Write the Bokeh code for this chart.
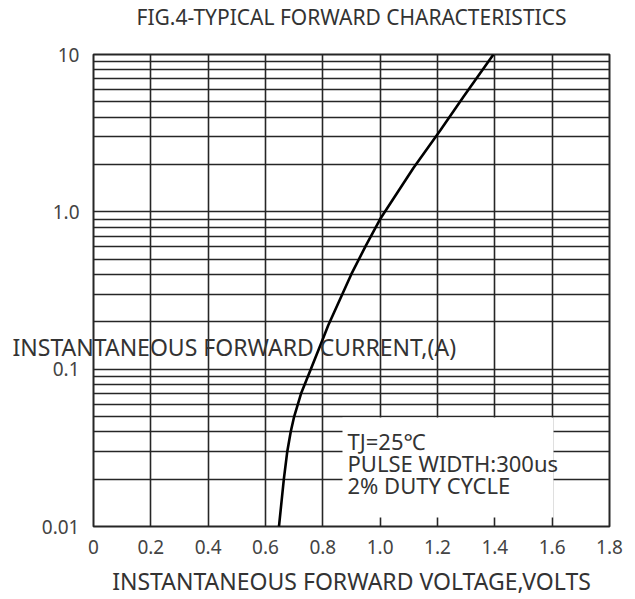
from bokeh.plotting import figure
from bokeh.models import FixedTicker, Label, BoxAnnotation, Range1d
from bokeh.embed import file_html
from bokeh.resources import INLINE

# ---- data ----
voltage = [0.647, 0.664, 0.676, 0.688, 0.700, 0.724, 0.758, 0.790, 0.819,
           0.860, 0.899, 0.951, 1.000, 1.116, 1.210, 1.290, 1.395]
current = [0.01, 0.02, 0.03, 0.04, 0.05, 0.07, 0.10, 0.14, 0.19,
           0.278, 0.40, 0.615, 0.90, 1.90, 3.30, 5.36, 10.0]

x_ticks = [0, 0.2, 0.4, 0.6, 0.8, 1.0, 1.2, 1.4, 1.6, 1.8]
x_tick_labels = ["0", "0.2", "0.4", "0.6", "0.8", "1.0", "1.2", "1.4", "1.6", "1.8"]
y_ticks = [0.01, 0.1, 1.0, 10.0]
y_tick_labels = ["0.01", "0.1", "1.0", "10"]
y_minor = [0.02, 0.03, 0.04, 0.05, 0.06, 0.07, 0.08, 0.09,
           0.2, 0.3, 0.4, 0.5, 0.6, 0.7, 0.8, 0.9,
           2, 3, 4, 5, 6, 7, 8, 9]

title_text = "FIG.4-TYPICAL FORWARD CHARACTERISTICS"
x_label_text = "INSTANTANEOUS FORWARD VOLTAGE,VOLTS"
y_label_text = "INSTANTANEOUS FORWARD CURRENT,(A)"
note_lines = ["TJ=25\u2103", "PULSE WIDTH:300us", "2% DUTY CYCLE"]

FONT = "Noto Sans"
TXT = "#333333"
GRID = "#262626"

p = figure(width=635, height=599, y_axis_type="log",
           x_range=Range1d(0, 1.8), y_range=Range1d(0.01, 10),
           output_backend="svg", toolbar_location=None,
           min_border_left=93, min_border_right=26,
           min_border_top=54, min_border_bottom=72)
p.background_fill_color = "white"
p.border_fill_color = "white"
p.outline_line_color = GRID
p.outline_line_width = 2

p.title.text = title_text
p.title.align = "center"
p.title.text_font = FONT
p.title.text_font_size = "21px"
p.title.text_font_style = "normal"
p.title.text_color = TXT
p.title.standoff = -16

p.xaxis.ticker = FixedTicker(ticks=x_ticks)
p.xaxis.major_label_overrides = {v: s for v, s in zip(x_ticks, x_tick_labels)}
p.yaxis.ticker = FixedTicker(ticks=y_ticks, minor_ticks=y_minor)
p.yaxis.major_label_overrides = {v: s for v, s in zip(y_ticks, y_tick_labels)}

for ax in (p.xaxis, p.yaxis):
    ax.axis_line_color = None
    ax.major_tick_out = 0
    ax.major_tick_in = 0
    ax.minor_tick_out = 0
    ax.minor_tick_in = 0
    ax.major_label_text_font = FONT
    ax.major_label_text_font_size = "19px"
    ax.major_label_text_color = "#444444"
p.xaxis.major_label_standoff = 13
p.yaxis.major_label_standoff = 14

p.xaxis.axis_label = x_label_text
p.xaxis.axis_label_text_font = FONT
p.xaxis.axis_label_text_font_size = "23px"
p.xaxis.axis_label_text_font_style = "normal"
p.xaxis.axis_label_text_color = TXT
p.xaxis.axis_label_standoff = 8

p.xgrid.grid_line_color = GRID
p.xgrid.grid_line_width = 1.6
p.ygrid.grid_line_color = GRID
p.ygrid.grid_line_width = 1.6
p.ygrid.minor_grid_line_color = GRID
p.ygrid.minor_grid_line_width = 1.6

p.line(voltage, current, line_color="black", line_width=2.6)

# white box behind the test conditions note
p.add_layout(BoxAnnotation(left=249, right=460, bottom=9, top=109,
                           left_units="screen", right_units="screen",
                           bottom_units="screen", top_units="screen",
                           fill_color="white", fill_alpha=1.0, line_color=None))

for txt, yy in zip(note_lines, [86, 64, 42]):
    p.add_layout(Label(x=254, y=yy, x_units="screen", y_units="screen", text=txt,
                       text_font=FONT, text_font_size="22px", text_color=TXT,
                       text_baseline="middle", text_align="left"))

# the current label runs horizontally across the plot, as in the reference
p.add_layout(Label(x=-81, y=-292, x_units="screen", y_units="screen", text=y_label_text,
                   text_font=FONT, text_font_size="23px", text_color=TXT,
                   text_baseline="middle", text_align="left"), "above")

open("out.html", "w").write(file_html(p, INLINE))
